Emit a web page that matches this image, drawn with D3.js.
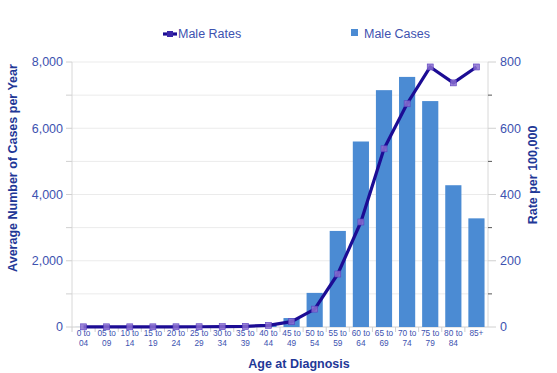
<!DOCTYPE html>
<html><head><meta charset="utf-8">
<script src="https://cdn.jsdelivr.net/npm/d3@7"></script>
<style>body{margin:0;background:#fff;font-family:"Liberation Sans",Arial,sans-serif}</style>
</head><body><svg id="c" width="557" height="373"></svg>
<script>
const categories = ["0 to|04","05 to|09","10 to|14","15 to|19","20 to|24","25 to|29","30 to|34","35 to|39","40 to|44","45 to|49","50 to|54","55 to|59","60 to|64","65 to|69","70 to|74","75 to|79","80 to|84","85+|"];
const maleCases = [2,2,2,3,5,8,12,20,60,270,1030,2900,5600,7150,7550,6820,4280,3280];
const maleRates = [0.5,0.5,0.5,0.5,0.6,0.8,1,2,5,16,54,160,317,538,674,785,737,785];
const leftTicks = [0,2000,4000,6000,8000];
const rightTicks = [0,200,400,600,800];

const svg = d3.select("#c");
const m = {l:72, r:488, t:62, b:327};
const x = d3.scaleBand().domain(categories).range([m.l, m.r]).paddingInner(0.3).paddingOuter(0.15);
const yL = d3.scaleLinear().domain([0,8000]).range([m.b, m.t]);
const yR = d3.scaleLinear().domain([0,800]).range([m.b, m.t]);
const tickColor = "#3d52b0", titleColor = "#1f3897";

// gridlines
svg.append("g").selectAll("line").data(d3.range(1000,8001,1000)).join("line")
  .attr("x1", m.l).attr("x2", m.r).attr("y1", d=>yL(d)).attr("y2", d=>yL(d))
  .attr("stroke", "#ebebeb").attr("stroke-width", 1);

// left axis
const gL = svg.append("g").attr("transform", `translate(${m.l},0)`);
gL.append("line").attr("y1", m.t).attr("y2", m.b).attr("stroke", "#d8d8d8");
gL.selectAll("line.t").data(d3.range(0,8001,1000)).join("line").attr("class","t")
  .attr("x1", -6).attr("x2", 0).attr("y1", d=>yL(d)).attr("y2", d=>yL(d)).attr("stroke", "#d0d0d0");
gL.selectAll("text").data(leftTicks).join("text")
  .attr("x", -9).attr("y", d=>yL(d)).attr("dy","0.35em").attr("text-anchor","end")
  .attr("fill", tickColor).attr("font-size", 12.5).text(d=>d3.format(",")(d));

// right axis
const gR = svg.append("g").attr("transform", `translate(${m.r},0)`);
gR.append("line").attr("y1", m.t).attr("y2", m.b).attr("stroke", "#d8d8d8");
gR.selectAll("line.t").data(d3.range(0,801,100)).join("line").attr("class","t")
  .attr("x1", 0).attr("x2", d=> d%200===0 ? 8 : 4).attr("y1", d=>yR(d)).attr("y2", d=>yR(d))
  .attr("stroke", d=> d%200===0 ? "#d0d0d0" : "#555");
gR.selectAll("text").data(rightTicks).join("text")
  .attr("x", 12).attr("y", d=>yR(d)).attr("dy","0.35em").attr("text-anchor","start")
  .attr("fill", tickColor).attr("font-size", 12.5).text(d=>d3.format(",")(d));

// bottom axis
svg.append("line").attr("x1", m.l).attr("x2", m.r).attr("y1", m.b).attr("y2", m.b).attr("stroke", "#d0d0d0");
const step = x.step();
svg.append("g").selectAll("line").data(categories).join("line")
  .attr("x1", d=>x(d)-x.paddingInner()*step/2).attr("x2", d=>x(d)-x.paddingInner()*step/2)
  .attr("y1", m.b).attr("y2", m.b+5).attr("stroke", "#d0d0d0");
const xl = svg.append("g").selectAll("text").data(categories).join("text")
  .attr("x", d=>x(d)+x.bandwidth()/2).attr("y", m.b+9).attr("text-anchor","middle")
  .attr("fill", tickColor).attr("font-size", 8.3);
xl.each(function(d){
  const parts = d.split("|");
  const t = d3.select(this);
  t.append("tspan").attr("x", x(d)+x.bandwidth()/2).attr("dy", 0).text(parts[0]);
  if (parts[1]) t.append("tspan").attr("x", x(d)+x.bandwidth()/2).attr("dy", 10).text(parts[1]);
});

// bars
svg.append("g").selectAll("rect").data(categories).join("rect")
  .attr("x", d=>x(d)).attr("width", x.bandwidth())
  .attr("y", (d,i)=>yL(maleCases[i])).attr("height", (d,i)=>m.b - yL(maleCases[i]))
  .attr("fill", "#4b8bd3");

// line
const pts = categories.map((d,i)=>[x(d)+x.bandwidth()/2, yR(maleRates[i])]);
svg.append("path").datum(pts).attr("d", d3.line())
  .attr("fill","none").attr("stroke","#1c0c94").attr("stroke-width",3.2).attr("stroke-linejoin","round");
svg.append("g").selectAll("rect").data(pts).join("rect")
  .attr("x", d=>d[0]-3).attr("y", d=>d[1]-3).attr("width",6).attr("height",6)
  .attr("fill","#8a6fd0").attr("fill-opacity",0.85).attr("stroke","#5b3fbf").attr("stroke-width",0.6);

// legend
svg.append("line").attr("x1",163).attr("x2",177).attr("y1",34).attr("y2",34).attr("stroke","#1c0c94").attr("stroke-width",3.2);
svg.append("rect").attr("x",167).attr("y",31).attr("width",6).attr("height",6).attr("fill","#3a26a8");
svg.append("text").attr("x",178).attr("y",34).attr("dy","0.35em").attr("fill",tickColor).attr("font-size",12.5).text("Male Rates");
svg.append("rect").attr("x",351).attr("y",29).attr("width",7).attr("height",7).attr("fill","#4b8bd3");
svg.append("text").attr("x",364).attr("y",34).attr("dy","0.35em").attr("fill",tickColor).attr("font-size",12.5).text("Male Cases");

// axis titles
svg.append("text").attr("transform","translate(17,168) rotate(-90)").attr("text-anchor","middle")
  .attr("fill",titleColor).attr("font-weight","bold").attr("font-size",12.5).text("Average Number of Cases per Year");
svg.append("text").attr("transform","translate(537,175) rotate(-90)").attr("text-anchor","middle")
  .attr("fill",titleColor).attr("font-weight","bold").attr("font-size",12.5).text("Rate per 100,000");
svg.append("text").attr("x",299).attr("y",368).attr("text-anchor","middle")
  .attr("fill",titleColor).attr("font-weight","bold").attr("font-size",12.5).text("Age at Diagnosis");
</script></body></html>
